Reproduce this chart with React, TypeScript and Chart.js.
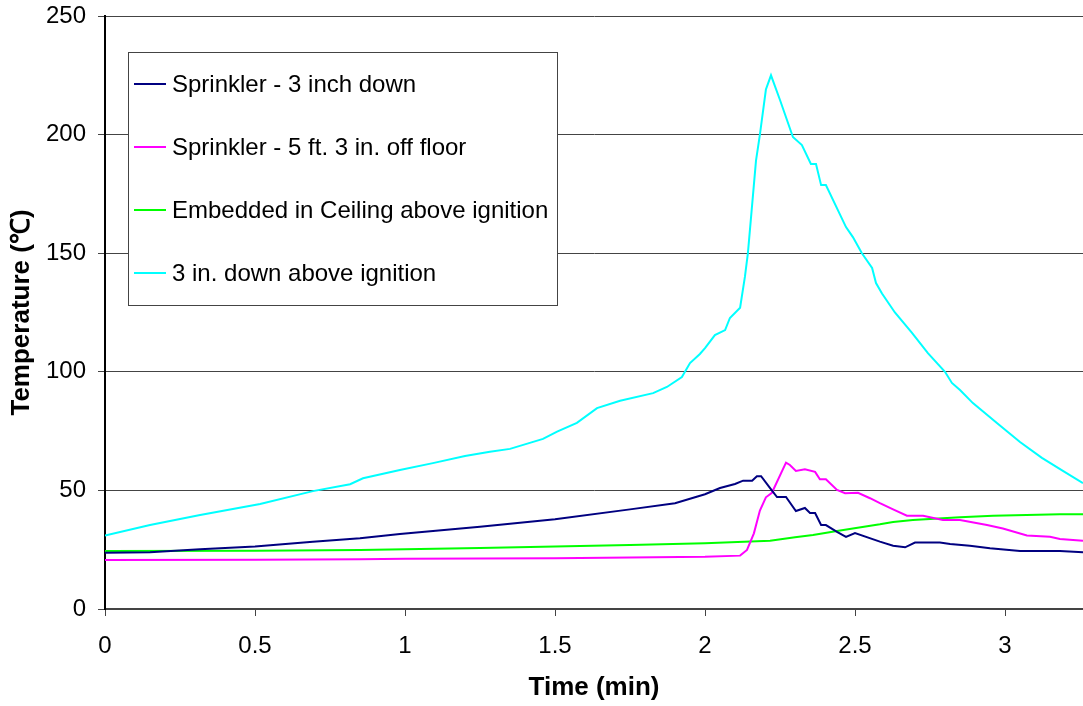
import React, { useEffect, useRef } from "react";
import { Chart, registerables } from "chart.js";

Chart.register(...registerables);

const seriesNames = [
  "Sprinkler - 3 inch down",
  "Sprinkler - 5 ft. 3 in. off floor",
  "Embedded in Ceiling above ignition",
  "3 in. down above ignition",
];
const seriesColors = ["#000080", "#FF00FF", "#00FF00", "#00FFFF"];

const xTitle = "Time (min)";
const yTitle = "Temperature (\u2103)";

const navyT = [0, 0.15, 0.317, 0.5, 0.693, 0.85, 0.983, 1.25, 1.5, 1.75, 1.9, 2.0, 2.05, 2.1, 2.127, 2.157, 2.173, 2.187, 2.217, 2.24, 2.27, 2.303, 2.333, 2.35, 2.367, 2.387, 2.403, 2.44, 2.47, 2.5, 2.583, 2.627, 2.667, 2.7, 2.783, 2.817, 2.883, 2.95, 3.05, 3.183, 3.26];
const navyV = [23.7, 23.9, 25.2, 26.3, 28.4, 29.8, 31.6, 34.7, 37.8, 42, 44.6, 48.4, 51, 52.7, 54.1, 54.1, 56, 56, 51, 47.2, 47.2, 41.3, 42.6, 40.5, 40.5, 35.4, 35.4, 32.5, 30.4, 32, 28.4, 26.7, 26, 28, 28, 27.4, 26.7, 25.6, 24.5, 24.5, 23.9];

const magT = [0, 0.5, 0.85, 1.0, 1.5, 1.75, 2.0, 2.117, 2.14, 2.163, 2.183, 2.203, 2.223, 2.27, 2.283, 2.303, 2.333, 2.367, 2.383, 2.403, 2.44, 2.467, 2.51, 2.55, 2.583, 2.627, 2.673, 2.727, 2.793, 2.85, 2.94, 2.993, 3.073, 3.15, 3.183, 3.26];
const magV = [20.7, 20.8, 21, 21.2, 21.4, 21.7, 22, 22.5, 24.9, 31.9, 41.5, 47.1, 49, 61.7, 60.7, 58.2, 58.9, 57.8, 54.7, 54.7, 50.2, 48.8, 49, 46.7, 44.6, 42, 39.3, 39.3, 37.5, 37.5, 35.4, 33.9, 31, 30.5, 29.5, 28.8];

const greenT = [0, 0.5, 0.85, 1.0, 1.25, 1.5, 1.75, 2.0, 2.217, 2.3, 2.36, 2.44, 2.583, 2.627, 2.693, 2.85, 2.96, 3.183, 3.26];
const greenV = [24.4, 24.6, 24.9, 25.2, 25.7, 26.3, 27, 27.7, 28.8, 30.2, 31.2, 32.9, 35.7, 36.7, 37.5, 38.7, 39.3, 39.9, 39.9];

const cyanT = [0, 0.15, 0.317, 0.517, 0.693, 0.817, 0.86, 0.983, 1.093, 1.2, 1.283, 1.35, 1.46, 1.507, 1.573, 1.64, 1.717, 1.827, 1.873, 1.923, 1.95, 1.983, 2.0, 2.033, 2.067, 2.083, 2.117, 2.133, 2.143, 2.17, 2.183, 2.203, 2.22, 2.25, 2.293, 2.323, 2.353, 2.37, 2.387, 2.403, 2.47, 2.493, 2.523, 2.557, 2.57, 2.59, 2.633, 2.69, 2.743, 2.8, 2.823, 2.85, 2.893, 2.973, 3.05, 3.123, 3.193, 3.26];
const cyanV = [31, 35.4, 39.6, 44.3, 49.7, 52.6, 55.1, 58.6, 61.5, 64.5, 66.3, 67.5, 71.7, 74.8, 78.5, 84.7, 87.8, 91, 93.6, 97.8, 103.7, 107.5, 110, 115.5, 117.6, 122.7, 127, 140, 150, 189, 200, 219, 225, 214.6, 199, 195.6, 187.6, 187.6, 178.7, 178.7, 161, 156.8, 150, 143.8, 137.4, 133, 125, 116.4, 107.9, 100, 95.3, 92.3, 86.8, 78.4, 70.4, 63.7, 58.2, 53.1];

const seriesTimes = [navyT, magT, greenT, cyanT];
const seriesValues = [navyV, magV, greenV, cyanV];

const FONT = "'Liberation Sans', Arial, sans-serif";

const boxLegend = {
  id: "boxLegend",
  afterDatasetsDraw(chart: any) {
    const ctx = chart.ctx;
    const left = 128, top = 52, w = 429, h = 253;
    ctx.save();
    ctx.fillStyle = "#ffffff";
    ctx.fillRect(left, top, w, h);
    ctx.strokeStyle = "#444444";
    ctx.lineWidth = 1;
    ctx.strokeRect(left + 0.5, top + 0.5, w, h);
    ctx.font = `24px ${FONT}`;
    ctx.textBaseline = "middle";
    ctx.textAlign = "left";
    chart.data.datasets.forEach((ds: any, i: number) => {
      const y = 84 + i * 63;
      ctx.strokeStyle = ds.borderColor;
      ctx.lineWidth = 2;
      ctx.beginPath();
      ctx.moveTo(134, y);
      ctx.lineTo(166, y);
      ctx.stroke();
      ctx.fillStyle = "#000000";
      ctx.fillText(ds.label, 172, y + 1);
    });
    ctx.restore();
  },
};

export default function App() {
  const ref = useRef<HTMLCanvasElement>(null);
  useEffect(() => {
    document.body.style.margin = "0";
    const datasets = seriesNames.map((name, i) => ({
      label: name,
      data: seriesTimes[i].map((t, j) => ({ x: t, y: seriesValues[i][j] })),
      borderColor: seriesColors[i],
      backgroundColor: seriesColors[i],
      borderWidth: 2,
      pointRadius: 0,
      tension: 0,
      fill: false,
    }));
    const chart = new Chart(ref.current as HTMLCanvasElement, {
      type: "line",
      data: { datasets },
      plugins: [boxLegend],
      options: {
        responsive: false,
        animation: false,
        layout: { padding: { top: 16, left: 0, right: 0, bottom: 0 } },
        plugins: { legend: { display: false }, tooltip: { enabled: false } },
        scales: {
          x: {
            type: "linear",
            min: 0,
            max: 3.26,
            afterFit: (s: any) => {
              s.height = 97;
              s.paddingLeft = 0;
              s.paddingRight = 0;
            },
            ticks: {
              stepSize: 0.5,
              includeBounds: false,
              color: "#000",
              font: { family: FONT, size: 24 },
              padding: 16,
              maxRotation: 0,
              callback: (v: any) => String(Math.round(Number(v) * 100) / 100),
            },
            grid: { drawOnChartArea: false, drawTicks: true, tickLength: 7, color: "#444", lineWidth: 1 },
            border: { color: "#444", width: 2 },
            title: {
              display: true,
              text: xTitle,
              color: "#000",
              font: { family: FONT, size: 26, weight: "bold" },
              padding: { top: 0, bottom: 3 },
            },
          },
          y: {
            type: "linear",
            min: 0,
            max: 250,
            afterFit: (s: any) => {
              s.width = 105;
              s.paddingTop = 0;
              s.paddingBottom = 0;
            },
            ticks: {
              stepSize: 50,
              color: "#000",
              font: { family: FONT, size: 24 },
              padding: 12,
            },
            grid: { drawOnChartArea: true, drawTicks: true, tickLength: 7, color: "#444", lineWidth: 1 },
            border: { color: "#000", width: 2 },
            title: {
              display: true,
              text: yTitle,
              color: "#000",
              font: { family: FONT, size: 26, weight: "bold" },
              padding: { top: 6, bottom: 0 },
            },
          },
        },
      },
    } as any);
    return () => chart.destroy();
  }, []);
  return (
    <div style={{ width: 1083, height: 706 }}>
      <canvas ref={ref} width={1083} height={706} style={{ display: "block" }} />
    </div>
  );
}
